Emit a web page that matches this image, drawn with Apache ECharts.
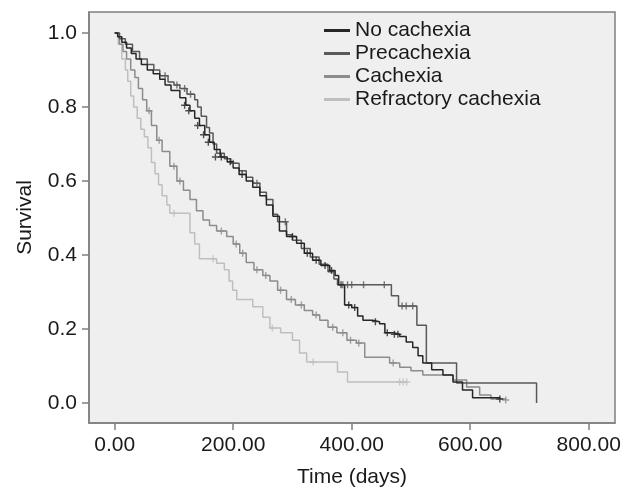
<!DOCTYPE html>
<html>
<head>
<meta charset="utf-8">
<script src="https://cdn.jsdelivr.net/npm/echarts@6/dist/echarts.min.js"></script>
<style>
  html, body { margin: 0; padding: 0; background: #fff; }
  #main { width: 624px; height: 488px; }
</style>
</head>
<body>
<div id="main"></div>
<script>
// groups and colours
var groups = ['No cachexia', 'Precachexia', 'Cachexia', 'Refractory cachexia'];
var colors = ['#262626', '#595959', '#8c8c8c', '#bfbfbf'];

// tick labels
var xTicks = [0, 200, 400, 600, 800];
var yTicks = [0, 0.2, 0.4, 0.6, 0.8, 1.0];

// Kaplan-Meier steps [day, survival]
var noCachexia = [
  [0, 1.0], [5, 0.99], [12, 0.975], [20, 0.96], [28, 0.945], [36, 0.93], [45, 0.915],
  [55, 0.9], [65, 0.89], [76, 0.875], [85, 0.86], [95, 0.845], [110, 0.825], [120, 0.805],
  [127, 0.79], [135, 0.77], [143, 0.75], [152, 0.725], [160, 0.705], [168, 0.685],
  [178, 0.665], [190, 0.652], [200, 0.635], [210, 0.618], [222, 0.6], [233, 0.583],
  [245, 0.56], [256, 0.535], [267, 0.505], [278, 0.465], [290, 0.45], [307, 0.432],
  [320, 0.405], [334, 0.386], [348, 0.372], [363, 0.358], [372, 0.345], [378, 0.32],
  [388, 0.265], [400, 0.258], [410, 0.235], [419, 0.224], [435, 0.22], [447, 0.214],
  [456, 0.19], [470, 0.186], [481, 0.18], [492, 0.165], [503, 0.15], [512, 0.128],
  [520, 0.108], [535, 0.09], [554, 0.076], [571, 0.057], [587, 0.035], [604, 0.014],
  [650, 0.011]
];
var preCachexia = [
  [0, 1.0], [8, 0.985], [18, 0.97], [30, 0.95], [42, 0.93], [55, 0.915], [66, 0.9],
  [76, 0.885], [90, 0.868], [100, 0.86], [110, 0.85], [122, 0.835], [135, 0.82],
  [140, 0.8], [146, 0.775], [155, 0.745], [160, 0.73], [166, 0.7], [172, 0.675],
  [185, 0.66], [196, 0.648], [210, 0.628], [222, 0.61], [233, 0.594], [245, 0.57],
  [256, 0.55], [267, 0.51], [275, 0.49], [290, 0.455], [300, 0.44], [315, 0.418],
  [330, 0.395], [345, 0.375], [360, 0.355], [370, 0.335], [376, 0.32], [467, 0.29],
  [479, 0.262], [510, 0.21], [526, 0.108], [577, 0.054], [712, 0.0]
];
var cachexia = [
  [0, 1.0], [8, 0.97], [14, 0.95], [20, 0.93], [27, 0.9], [34, 0.88], [40, 0.85],
  [47, 0.82], [54, 0.79], [62, 0.75], [71, 0.71], [80, 0.68], [93, 0.64], [105, 0.6],
  [116, 0.575], [127, 0.55], [138, 0.52], [149, 0.495], [160, 0.48], [172, 0.465],
  [189, 0.45], [200, 0.43], [211, 0.405], [222, 0.38], [235, 0.36], [250, 0.345],
  [262, 0.33], [275, 0.305], [290, 0.28], [305, 0.265], [320, 0.25], [334, 0.238],
  [346, 0.224], [360, 0.205], [375, 0.19], [392, 0.17], [408, 0.162], [422, 0.124],
  [464, 0.108], [481, 0.097], [500, 0.087], [520, 0.076], [571, 0.062], [594, 0.043],
  [616, 0.022], [635, 0.011], [660, 0.008]
];
var refractory = [
  [0, 1.0], [6, 0.97], [12, 0.93], [18, 0.9], [22, 0.87], [27, 0.83], [32, 0.8],
  [38, 0.77], [44, 0.74], [50, 0.72], [56, 0.69], [62, 0.65], [68, 0.62], [74, 0.59],
  [80, 0.56], [88, 0.535], [93, 0.513], [127, 0.46], [135, 0.43], [143, 0.39],
  [172, 0.378], [185, 0.36], [193, 0.33], [199, 0.305], [206, 0.28], [233, 0.26],
  [250, 0.232], [262, 0.203], [280, 0.19], [300, 0.17], [312, 0.135], [324, 0.111],
  [376, 0.084], [393, 0.057], [493, 0.057]
];

// censored cases (+ marks)
var noCachexiaCens = [
  [118, 0.805], [125, 0.79], [140, 0.75], [150, 0.725], [158, 0.705], [170, 0.665],
  [180, 0.665], [195, 0.652], [215, 0.618], [300, 0.45], [325, 0.405], [340, 0.386],
  [355, 0.372], [366, 0.358], [382, 0.32], [395, 0.265], [405, 0.258], [440, 0.22],
  [460, 0.19], [472, 0.186], [478, 0.186], [650, 0.011]
];
var preCachexiaCens = [
  [85, 0.885], [105, 0.86], [118, 0.85], [128, 0.835], [200, 0.648], [240, 0.594],
  [288, 0.49], [385, 0.32], [393, 0.32], [400, 0.32], [420, 0.32], [455, 0.32],
  [485, 0.262], [492, 0.262], [503, 0.262]
];
var cachexiaCens = [
  [58, 0.79], [75, 0.71], [100, 0.64], [110, 0.6], [180, 0.465], [205, 0.43],
  [216, 0.405], [240, 0.36], [255, 0.345], [280, 0.305], [298, 0.28], [315, 0.265],
  [340, 0.238], [368, 0.205], [385, 0.19], [398, 0.17], [412, 0.162], [470, 0.108],
  [660, 0.008]
];
var refractoryCens = [
  [100, 0.513], [166, 0.39], [266, 0.203], [335, 0.111], [481, 0.057], [487, 0.057],
  [493, 0.057]
];

var curves = [noCachexia, preCachexia, cachexia, refractory];
var censored = [noCachexiaCens, preCachexiaCens, cachexiaCens, refractoryCens];

var font = '"Liberation Sans", Arial, sans-serif';
var frame = '#7f7f7f';
var plus = 'path://M4,0H6V4H10V6H6V10H4V6H0V4H4Z';

var series = [];
groups.forEach(function (g, i) {
  series.push({
    name: g,
    type: 'line',
    step: 'end',
    data: curves[i],
    showSymbol: false,
    color: colors[i],
    lineStyle: { width: 1.5, color: colors[i] },
    z: 10 - i
  });
  series.push({
    name: g,
    type: 'scatter',
    data: censored[i],
    symbol: plus,
    symbolSize: 7,
    itemStyle: { color: colors[i] },
    z: 20 - i
  });
});

var myChart = echarts.init(document.getElementById('main'));

option = {
  animation: false,
  backgroundColor: '#ffffff',
  grid: {
    left: 89, right: 9, top: 12, bottom: 65,
    outerBoundsMode: 'none',
    containLabel: false,
    show: true,
    backgroundColor: '#efefef',
    borderColor: frame,
    borderWidth: 1.5
  },
  legend: {
    data: groups,
    orient: 'vertical',
    left: 319,
    top: 15,
    itemWidth: 26,
    itemHeight: 3,
    itemGap: 2,
    icon: 'rect',
    textStyle: { fontFamily: font, fontSize: 21, lineHeight: 21, color: '#1a1a1a' }
  },
  xAxis: {
    type: 'value',
    min: -43.4,
    max: 844.4,
    name: 'Time (days)',
    nameLocation: 'middle',
    nameGap: 44,
    nameTextStyle: { fontFamily: font, fontSize: 21, color: '#1a1a1a' },
    axisLine: { show: true, onZero: false, lineStyle: { color: frame, width: 1.5 } },
    axisTick: { show: true, length: 7, customValues: xTicks, lineStyle: { color: frame, width: 1.5 } },
    axisLabel: {
      customValues: xTicks,
      margin: 12,
      fontFamily: font, fontSize: 21, color: '#1a1a1a',
      formatter: function (v) { return v.toFixed(2); }
    },
    splitLine: { show: false }
  },
  yAxis: {
    type: 'value',
    min: -0.054,
    max: 1.057,
    name: 'Survival',
    nameLocation: 'middle',
    nameGap: 53,
    nameTextStyle: { fontFamily: font, fontSize: 21, color: '#1a1a1a' },
    axisLine: { show: true, onZero: false, lineStyle: { color: frame, width: 1.5 } },
    axisTick: { show: true, length: 7, customValues: yTicks, lineStyle: { color: frame, width: 1.5 } },
    axisLabel: {
      customValues: yTicks,
      margin: 12,
      fontFamily: font, fontSize: 21, color: '#1a1a1a',
      formatter: function (v) { return v.toFixed(1); }
    },
    splitLine: { show: false }
  },
  series: series
};

myChart.setOption(option);
</script>
</body>
</html>
